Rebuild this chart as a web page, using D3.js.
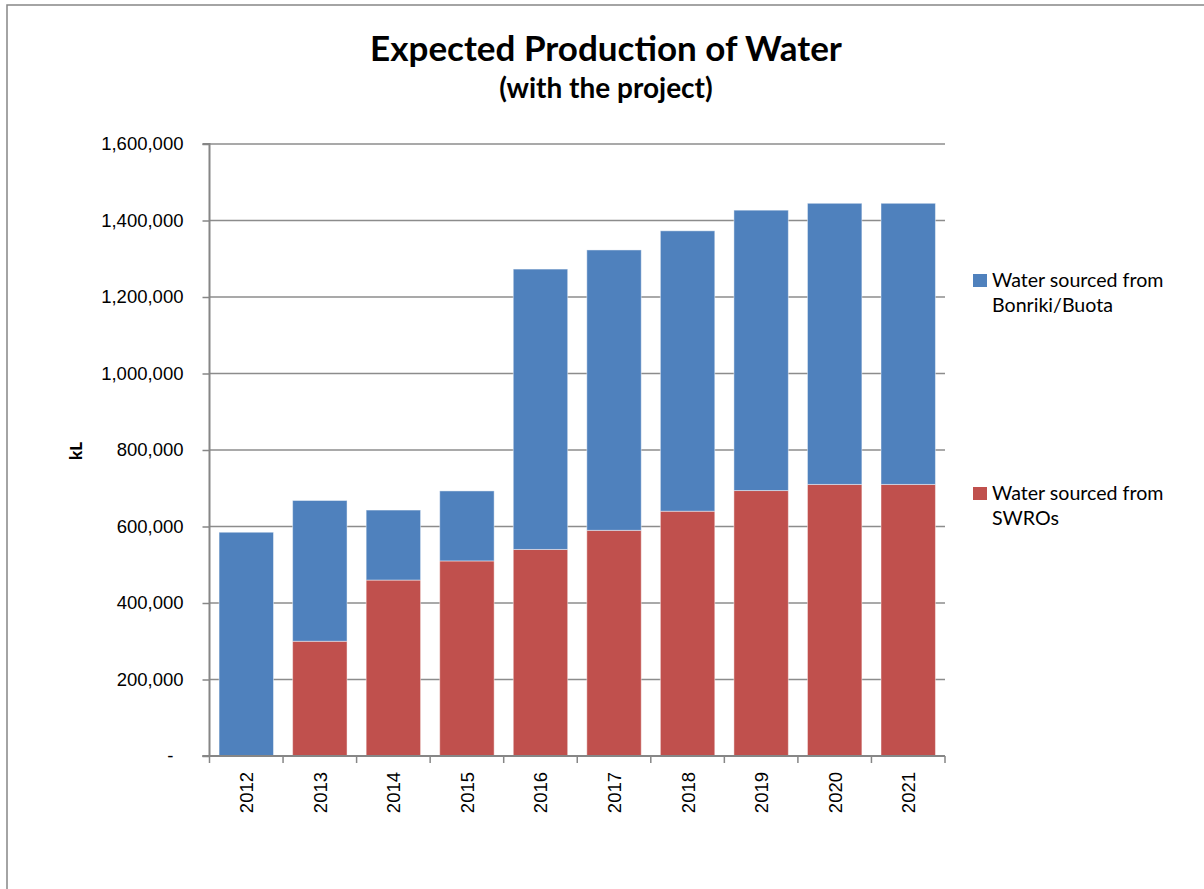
<!DOCTYPE html>
<html>
<head>
<meta charset="utf-8">
<script src="https://cdn.jsdelivr.net/npm/d3@7"></script>
<style>
  html, body { margin: 0; padding: 0; background: #fff; }
  svg { display: block; }
</style>
</head>
<body>
<svg id="chart" width="1204" height="889"></svg>
<script>
// Annual water production (kL), stacked by source
const years = ["2012", "2013", "2014", "2015", "2016", "2017", "2018", "2019", "2020", "2021"];
const swroValues = [0, 300000, 460000, 510000, 540000, 590000, 640000, 694000, 710000, 710000];
const bonrikiValues = [585000, 368000, 183000, 183000, 733000, 733000, 733000, 733000, 735000, 735000];
const yTicks = [0, 200000, 400000, 600000, 800000, 1000000, 1200000, 1400000, 1600000];
const seriesNames = {
  swro: ["Water sourced from", "SWROs"],
  bonriki: ["Water sourced from", "Bonriki/Buota"]
};
const colors = { swro: "#C0504D", bonriki: "#4F81BD" };

const rows = years.map((y, i) => ({ year: y, swro: swroValues[i], bonriki: bonrikiValues[i] }));
const stacked = d3.stack().keys(["swro", "bonriki"])(rows);

const svg = d3.select("#chart");
const uiFont = "Lato, 'Open Sans', sans-serif";
const axisFont = "'Liberation Sans', Arial, sans-serif";

// chart frame
svg.append("rect")
  .attr("x", 7).attr("y", 5).attr("width", 1210).attr("height", 900)
  .attr("fill", "#fff").attr("stroke", "#868686").attr("stroke-width", 1.5);

const plot = { left: 209.5, right: 945, top: 144, bottom: 756 };

const x = d3.scaleBand().domain(years).range([plot.left, plot.right]).paddingInner(0.26).paddingOuter(0.13);
const y = d3.scaleLinear().domain([0, 1600000]).range([plot.bottom, plot.top]);

// horizontal gridlines
svg.append("g")
  .selectAll("line")
  .data(yTicks.filter(d => d > 0))
  .join("line")
  .attr("x1", plot.left).attr("x2", plot.right)
  .attr("y1", d => y(d)).attr("y2", d => y(d))
  .attr("stroke", "#8c8c8c").attr("stroke-width", 1.4);

// stacked bars
svg.append("g")
  .selectAll("g")
  .data(stacked)
  .join("g")
  .attr("fill", d => colors[d.key])
  .selectAll("rect")
  .data(d => d.filter(p => p[1] - p[0] > 0))
  .join("rect")
  .attr("x", d => x(d.data.year))
  .attr("width", x.bandwidth())
  .attr("y", d => y(d[1]))
  .attr("height", d => y(d[0]) - y(d[1]))
  .attr("stroke", "rgba(255,255,255,0.45)")
  .attr("stroke-width", 1);

// y axis
const yAxis = d3.axisLeft(y)
  .tickValues(yTicks)
  .tickSize(7)
  .tickPadding(19)
  .tickFormat(d => d === 0 ? "-" : d3.format(",")(d));
const gy = svg.append("g")
  .attr("transform", `translate(${plot.left},0)`)
  .call(yAxis);
gy.select(".domain").attr("stroke", "#868686").attr("stroke-width", 2).attr("d", `M-7,${plot.top}H0V${plot.bottom}H-7`);
gy.selectAll(".tick line").attr("stroke", "#868686").attr("stroke-width", 1.5);
gy.selectAll(".tick text")
  .attr("font-family", axisFont)
  .attr("font-size", 18.5)
  .attr("fill", "#000")
  .attr("dx", d => d === 0 ? -10 : 0);

// x axis with tick marks on band boundaries
const gx = svg.append("g").attr("transform", `translate(0,${plot.bottom})`);
gx.append("line")
  .attr("x1", plot.left - 7).attr("x2", plot.right)
  .attr("stroke", "#868686").attr("stroke-width", 2);
const step = x.step();
const boundaries = years.map(yr => x(yr) - (step - x.bandwidth()) / 2).concat([plot.right]);
gx.selectAll(".bnd")
  .data(boundaries)
  .join("line")
  .attr("class", "bnd")
  .attr("x1", d => d).attr("x2", d => d)
  .attr("y1", 0).attr("y2", 7)
  .attr("stroke", "#868686").attr("stroke-width", 1.5);
gx.selectAll(".yr")
  .data(years)
  .join("text")
  .attr("class", "yr")
  .attr("transform", d => `translate(${x(d) + x.bandwidth() / 2 + 7},16) rotate(-90)`)
  .attr("text-anchor", "end")
  .attr("font-family", axisFont)
  .attr("font-size", 18.5)
  .attr("fill", "#000")
  .text(d => d);

// y axis title
svg.append("text")
  .attr("transform", "translate(82,451) rotate(-90)")
  .attr("text-anchor", "middle")
  .attr("font-family", uiFont)
  .attr("font-weight", 900)
  .attr("font-size", 17)
  .text("kL");

// titles
svg.append("text")
  .attr("x", 606).attr("y", 61)
  .attr("text-anchor", "middle")
  .attr("font-family", uiFont)
  .attr("font-weight", 700)
  .attr("font-size", 35)
  .text("Expected Production of Water");
svg.append("text")
  .attr("x", 606).attr("y", 98)
  .attr("text-anchor", "middle")
  .attr("font-family", uiFont)
  .attr("font-weight", 700)
  .attr("font-size", 28)
  .text("(with the project)");

// legend
const legendItems = [
  { key: "bonriki", top: 274 },
  { key: "swro", top: 487 }
];
const lg = svg.append("g").selectAll("g").data(legendItems).join("g")
  .attr("transform", d => `translate(973,${d.top})`);
lg.append("rect").attr("width", 14).attr("height", 13).attr("fill", d => colors[d.key]);
lg.append("text")
  .attr("x", 19).attr("y", 12.5)
  .attr("font-family", uiFont)
  .attr("font-size", 19.6)
  .attr("fill", "#000")
  .selectAll("tspan")
  .data(d => seriesNames[d.key])
  .join("tspan")
  .attr("x", 19)
  .attr("dy", (d, i) => i === 0 ? 0 : 25)
  .text(d => d);
</script>
</body>
</html>
